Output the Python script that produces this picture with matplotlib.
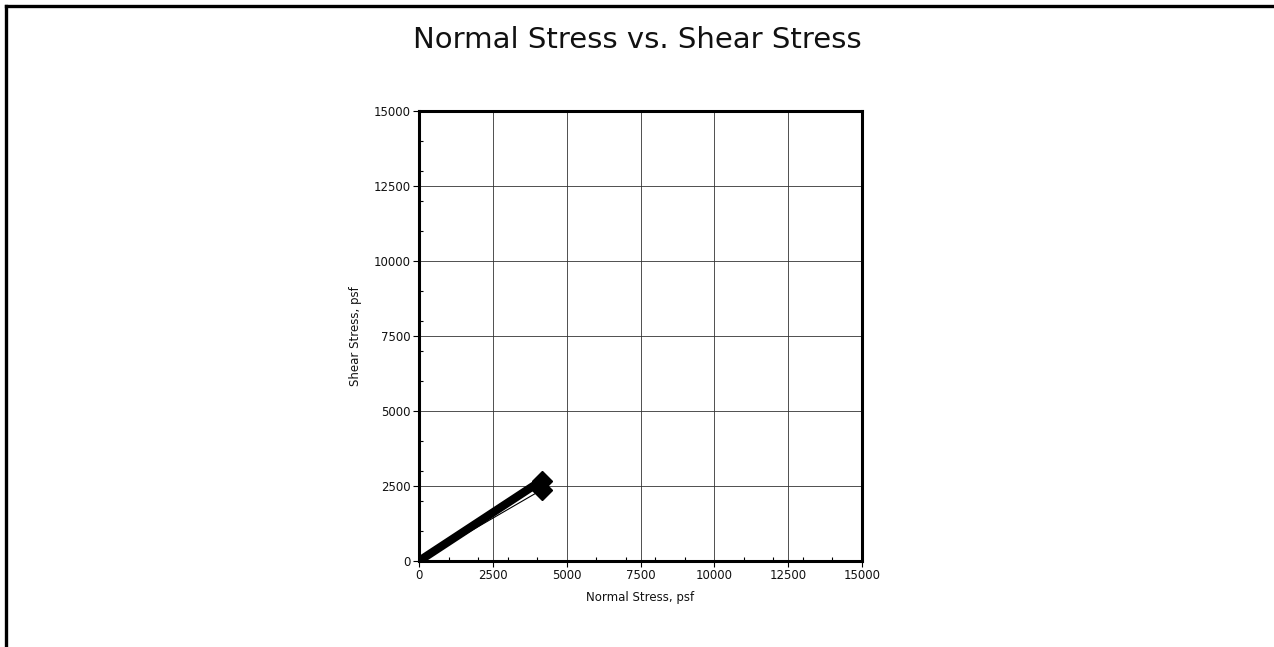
import matplotlib
matplotlib.use("Agg")
import matplotlib.pyplot as plt
from matplotlib.lines import Line2D
from matplotlib.ticker import MultipleLocator

# Test results (psf)
normal_stress = [4150, 4150]
shear_stress = [2680, 2370]
# Failure envelopes drawn from the origin through each test point
envelope_widths = [6.0, 0.8]

axis_ticks = [0, 2500, 5000, 7500, 10000, 12500, 15000]
axis_max = 15000

fig = plt.figure(figsize=(12.74, 6.47), dpi=100)
fig.patch.set_facecolor("white")

ax = fig.add_axes([419 / 1274, 1 - 561 / 647, 443 / 1274, 450 / 647])

for x, y, lw in zip(normal_stress, shear_stress, envelope_widths):
    ax.plot([0, x], [0, y], color="black", lw=lw, solid_capstyle="butt", zorder=3)
ax.plot(normal_stress, shear_stress, linestyle="none", marker="D",
        markersize=10.5, color="black", zorder=4, clip_on=False)

ax.set_xlim(0, axis_max)
ax.set_ylim(0, axis_max)
ax.set_xticks(axis_ticks)
ax.set_yticks(axis_ticks)
ax.set_xticklabels([str(t) for t in axis_ticks])
ax.set_yticklabels([str(t) for t in axis_ticks])
ax.xaxis.set_minor_locator(MultipleLocator(1000))
ax.yaxis.set_minor_locator(MultipleLocator(1000))

ax.grid(True, which="major", color="#333333", lw=0.6)
ax.set_axisbelow(True)
ax.tick_params(which="major", direction="out", length=4, width=0.8,
               labelsize=8.5, pad=2, labelcolor="#111111")
ax.tick_params(which="minor", direction="in", length=3, width=0.8)
for side in ax.spines.values():
    side.set_linewidth(2.2)
    side.set_color("black")

ax.set_xlabel("Normal Stress, psf", fontsize=8.5, labelpad=6, color="#111111")
ax.set_ylabel("Shear Stress, psf", fontsize=8.5, labelpad=8, color="#111111")

fig.text(0.5, 1 - 40 / 647, "Normal Stress vs. Shear Stress", ha="center",
         va="center", fontsize=21, color="#111111")

# Frame along the top and left edges of the figure
fig.add_artist(Line2D([5.5 / 1274, 1], [1 - 6 / 647, 1 - 6 / 647],
                      transform=fig.transFigure, color="black", lw=2.4))
fig.add_artist(Line2D([5.5 / 1274, 5.5 / 1274], [0, 1 - 6 / 647],
                      transform=fig.transFigure, color="black", lw=2.4))

fig.savefig("out.png", dpi=100, facecolor="white")
